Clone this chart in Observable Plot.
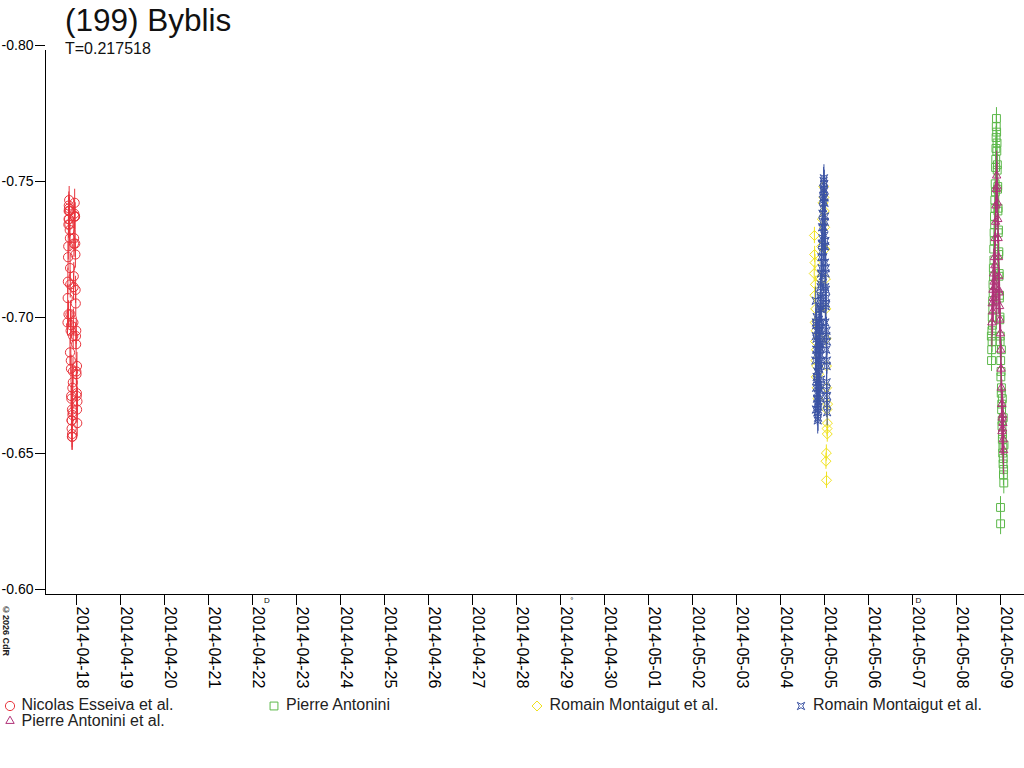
<!DOCTYPE html>
<html><head><meta charset="utf-8">
<script src="https://cdn.jsdelivr.net/npm/d3@7"></script>
<script src="https://cdn.jsdelivr.net/npm/@observablehq/plot@0.6"></script>
<style>
body{margin:0;background:#fff;font-family:"Liberation Sans",Arial,sans-serif;}
#wrap{position:relative;width:1024px;height:768px;overflow:hidden;background:#fff}
#chart{position:absolute;left:0;top:0}
#title{position:absolute;left:65px;top:3px;font-size:31.5px;line-height:34px;color:#111;white-space:nowrap}
#sub{position:absolute;left:65px;top:40px;font-size:16px;line-height:18px;color:#111;white-space:nowrap}
#copy{position:absolute;left:1px;top:605px;font-size:9px;font-weight:bold;writing-mode:vertical-rl;color:#222;white-space:nowrap}
.lt{position:absolute;font-size:16px;line-height:18px;color:#222;white-space:nowrap}
.li{position:absolute;width:14px;height:14px;overflow:visible}
</style></head><body>
<div id="wrap">
<div id="chart"></div>
<div id="title">(199) Byblis</div>
<div id="sub">T=0.217518</div>
<div id="copy">©2026 CdR</div>
<div id="legend"></div>
</div>
<script>
// ---- data ----
const tickLabels = ["2014-04-18","2014-04-19","2014-04-20","2014-04-21","2014-04-22","2014-04-23","2014-04-24","2014-04-25","2014-04-26","2014-04-27","2014-04-28","2014-04-29","2014-04-30","2014-05-01","2014-05-02","2014-05-03","2014-05-04","2014-05-05","2014-05-06","2014-05-07","2014-05-08","2014-05-09"];
const yTicks = [-0.80, -0.75, -0.70, -0.65, -0.60];
const moonTimes = ["2014-04-22T07:52Z", "2014-04-29T06:14Z", "2014-05-07T03:15Z"];
const moonGlyphs = ["D", "°", "D"];

const seriesNames = ["Nicolas Esseiva et al.", "Pierre Antonini", "Romain Montaigut et al.", "Romain Montaigut et al.", "Pierre Antonini et al."];
const seriesColors = ["#e8343c", "#5cb84a", "#f0e21e", "#3c54a4", "#b03278"];
const seriesDates = ["2014-04-18", "2014-05-09", "2014-05-05", "2014-05-05", "2014-05-09"];
const seriesErrors = [0.005, 0.004, 0.003, 0.005, 0.009];

// observations: [hours UT from 0h of the series date, magnitude]
const redObs = [[-4.9,-0.700],[-4.8,-0.709],[-4.7,-0.715],[-4.6,-0.724],[-4.5,-0.728],[-4.4,-0.736],[-4.3,-0.738],[-4.2,-0.743],[-4.1,-0.742],[-4.0,-0.745],[-3.9,-0.741],[-3.8,-0.741],[-3.7,-0.734],[-3.6,-0.731],[-3.5,-0.720],[-3.4,-0.714],[-3.3,-0.703],[-3.2,-0.697],[-3.1,-0.686],[-3.0,-0.683],[-2.9,-0.673],[-2.8,-0.672],[-2.7,-0.664],[-2.6,-0.664],[-2.5,-0.658],[-2.4,-0.659],[-2.3,-0.658],[-2.2,-0.666],[-2.1,-0.667],[-2.0,-0.678],[-1.9,-0.682],[-1.8,-0.695],[-1.7,-0.700],[-1.6,-0.713],[-1.5,-0.717],[-1.4,-0.729],[-1.3,-0.731],[-1.2,-0.740],[-1.1,-0.739],[-1.0,-0.744],[-0.9,-0.739],[-0.8,-0.739],[-0.7,-0.729],[-0.6,-0.725],[-0.5,-0.712],[-0.4,-0.707],[-0.3,-0.695],[-0.2,-0.692],[-0.1,-0.682],[0.0,-0.681],[0.1,-0.673],[0.2,-0.674],[0.3,-0.668],[-4.35,-0.703],[-2.95,-0.699],[-0.15,-0.697],[-2.25,-0.676],[-3.55,-0.689],[0.25,-0.684],[-4.05,-0.738],[-4.25,-0.741],[-3.85,-0.736],[0.4,-0.663],[0.5,-0.671],[-2.45,-0.668],[-2.65,-0.661]];

const greenObs = [[-5.0,-0.695],[-4.9,-0.686],[-4.8,-0.690],[-4.7,-0.697],[-4.6,-0.693],[-4.5,-0.702],[-4.4,-0.699],[-4.3,-0.708],[-4.2,-0.705],[-4.1,-0.714],[-4.0,-0.711],[-3.9,-0.720],[-3.8,-0.717],[-3.7,-0.727],[-3.6,-0.723],[-3.5,-0.733],[-3.4,-0.730],[-3.3,-0.739],[-3.2,-0.736],[-3.1,-0.745],[-3.0,-0.742],[-2.9,-0.751],[-2.8,-0.748],[-2.7,-0.757],[-2.6,-0.760],[-2.5,-0.764],[-2.4,-0.768],[-2.3,-0.772],[-2.2,-0.775],[-2.1,-0.770],[-2.0,-0.763],[-1.9,-0.766],[-1.8,-0.756],[-1.7,-0.758],[-1.6,-0.749],[-1.5,-0.750],[-1.4,-0.741],[-1.3,-0.742],[-1.2,-0.733],[-1.1,-0.734],[-1.0,-0.725],[-0.9,-0.726],[-0.8,-0.717],[-0.7,-0.718],[-0.6,-0.709],[-0.5,-0.710],[-0.4,-0.701],[-0.3,-0.702],[-0.2,-0.693],[-0.1,-0.695],[0.0,-0.632],[0.05,-0.626],[0.1,-0.686],[0.2,-0.680],[0.3,-0.682],[0.4,-0.674],[0.5,-0.676],[0.6,-0.668],[0.7,-0.670],[0.8,-0.662],[0.9,-0.664],[1.0,-0.657],[1.1,-0.659],[1.2,-0.652],[1.3,-0.654],[1.4,-0.648],[1.5,-0.650],[1.6,-0.644],[1.7,-0.646],[1.8,-0.641],[1.9,-0.655],[1.5,-0.665],[1.0,-0.672],[0.5,-0.690]];

const yellowObs = [[-5.6,-0.718],[-5.5,-0.732],[-5.4,-0.725],[-5.3,-0.710],[-5.2,-0.722],[-5.1,-0.700],[-5.0,-0.714],[-4.9,-0.693],[-4.8,-0.705],[-4.7,-0.686],[-4.6,-0.697],[-4.5,-0.680],[-4.4,-0.690],[-4.3,-0.684],[-4.0,-0.676],[-3.6,-0.672],[-3.2,-0.681],[-2.8,-0.694],[-2.4,-0.705],[-2.0,-0.716],[-1.6,-0.728],[-1.2,-0.738],[-0.8,-0.744],[-0.5,-0.750],[-0.3,-0.746],[-0.1,-0.741],[0.1,-0.735],[0.3,-0.727],[0.5,-0.716],[0.7,-0.705],[0.9,-0.694],[1.1,-0.684],[1.2,-0.676],[1.3,-0.668],[1.4,-0.661],[1.5,-0.659],[1.0,-0.652],[0.8,-0.649],[1.1,-0.642],[1.6,-0.663],[1.7,-0.670]];

const blueObs = [[-4.8,-0.708],[-4.7,-0.700],[-4.6,-0.699],[-4.5,-0.690],[-4.4,-0.688],[-4.3,-0.680],[-4.2,-0.679],[-4.1,-0.672],[-4.0,-0.674],[-3.9,-0.667],[-3.8,-0.670],[-3.7,-0.664],[-3.6,-0.668],[-3.5,-0.665],[-3.4,-0.671],[-3.3,-0.669],[-3.2,-0.677],[-3.1,-0.676],[-3.0,-0.685],[-2.9,-0.683],[-2.8,-0.692],[-2.7,-0.691],[-2.6,-0.700],[-2.5,-0.698],[-2.4,-0.706],[-2.3,-0.710],[-2.2,-0.705],[-2.1,-0.713],[-2.0,-0.709],[-1.9,-0.718],[-1.8,-0.714],[-1.7,-0.724],[-1.6,-0.720],[-1.5,-0.729],[-1.4,-0.726],[-1.3,-0.735],[-1.2,-0.731],[-1.1,-0.740],[-1.0,-0.737],[-0.9,-0.745],[-0.8,-0.742],[-0.7,-0.749],[-0.6,-0.746],[-0.5,-0.752],[-0.4,-0.748],[-0.3,-0.753],[-0.2,-0.749],[-0.1,-0.751],[0.0,-0.744],[0.1,-0.746],[0.2,-0.737],[0.3,-0.739],[0.4,-0.728],[0.5,-0.730],[0.6,-0.718],[0.7,-0.720],[0.8,-0.707],[0.9,-0.709],[1.0,-0.695],[1.1,-0.697],[1.2,-0.684],[1.3,-0.686],[1.4,-0.673],[1.45,-0.667],[-4.75,-0.695],[-4.25,-0.702],[-3.75,-0.690],[-3.25,-0.684],[-2.75,-0.697],[-2.25,-0.688],[-1.75,-0.700],[-1.25,-0.694],[0.45,-0.700],[0.95,-0.690],[1.15,-0.678],[0.75,-0.712],[0.25,-0.722],[-0.25,-0.728],[-3.95,-0.682],[-4.55,-0.676],[-2.05,-0.692],[-1.55,-0.705],[-4.95,-0.686],[-4.65,-0.668],[-4.35,-0.694],[-4.05,-0.697],[-3.65,-0.678],[-3.35,-0.693],[-3.05,-0.701],[-2.65,-0.675],[-2.35,-0.672],[-1.95,-0.679],[-1.45,-0.686],[-0.95,-0.717],[-0.65,-0.724],[-0.45,-0.735],[-0.05,-0.732],[0.35,-0.713],[0.65,-0.706],[1.05,-0.675],[1.25,-0.670],[1.35,-0.693]];

const magentaObs = [[-4.7,-0.700],[-4.5,-0.707],[-4.3,-0.704],[-4.1,-0.712],[-3.9,-0.709],[-3.7,-0.718],[-3.5,-0.715],[-3.3,-0.724],[-3.1,-0.721],[-2.9,-0.731],[-2.7,-0.737],[-2.5,-0.743],[-2.3,-0.749],[-2.1,-0.754],[-1.9,-0.750],[-1.7,-0.744],[-1.5,-0.738],[-1.3,-0.731],[-1.1,-0.724],[-0.9,-0.717],[-0.7,-0.711],[-0.5,-0.706],[-0.3,-0.701],[-0.1,-0.696],[0.1,-0.690],[0.3,-0.683],[0.5,-0.676],[0.7,-0.670],[0.9,-0.665],[1.1,-0.661],[1.3,-0.663],[1.5,-0.657],[1.7,-0.653],[1.2,-0.666],[0.8,-0.660],[-3.0,-0.713],[-2.0,-0.708],[-1.0,-0.712]];

const allObs = [redObs, greenObs, yellowObs, blueObs, magentaObs];

// ---- build ----
const hourMs = 3600e3;
function rows(date, obs, err) {
  const base = new Date(date + "T00:00:00Z").getTime();
  return obs.map(([h, m]) => ({t: new Date(base + h * hourMs), m, lo: m - err, hi: m + err}));
}
const starSymbol = {
  draw(ctx, size) {
    const s = Math.sqrt(size) / 2, k = 0.45 * s;
    ctx.moveTo(-s, -s); ctx.lineTo(0, -k); ctx.lineTo(s, -s); ctx.lineTo(k, 0);
    ctx.lineTo(s, s); ctx.lineTo(0, k); ctx.lineTo(-s, s); ctx.lineTo(-k, 0); ctx.closePath();
  }
};
const symbols = ["circle", "square2", "diamond2", starSymbol, "triangle2"];
const radii = [4.6, 5, 4.5, 4.2, 4];
const series = allObs.map((obs, i) => ({
  data: rows(seriesDates[i], obs, seriesErrors[i]), color: seriesColors[i], symbol: symbols[i], r: radii[i]
}));

const x0 = new Date("2014-04-17T07:05:27Z"), x1 = new Date("2014-05-09T13:05:27Z");
const tickDates = tickLabels.map(s => new Date(s + "T00:00:00Z"));
const marks = [
  Plot.ruleY([-0.60], {stroke: "#000"}),
  Plot.ruleX([x0], {y1: -0.80, y2: -0.60, stroke: "#000"}),
  Plot.axisY(yTicks, {tickSize: 10, tickPadding: 2, fontSize: 14, dy: -5, tickFormat: d => d.toFixed(2), label: null, stroke: "#000", fill: "#000"}),
  Plot.axisX(tickDates, {tickSize: 11, tickPadding: 1, tickRotate: 90, fontSize: 16, lineAnchor: "bottom", textAnchor: "start", tickFormat: (d, i) => tickLabels[i], label: null, stroke: "#000", fill: "#000"}),
  Plot.text(moonTimes.map(s => new Date(s)), {x: d => d, y: -0.60, text: (d, i) => moonGlyphs[i], dy: 6, fontSize: 8, fill: "#000"})
];
for (const s of series) {
  marks.push(Plot.dot(s.data, {x: "t", y: "m", symbol: s.symbol, r: s.r, stroke: s.color, fill: "none", strokeWidth: 1}));
  marks.push(Plot.ruleX(s.data, {x: "t", y1: "lo", y2: "hi", stroke: s.color, strokeWidth: 1}));
}
const chart = Plot.plot({
  width: 1024, height: 700,
  marginLeft: 45, marginRight: 0, marginTop: 50, marginBottom: 106,
  x: {type: "utc", domain: [x0, x1]},
  y: {domain: [-0.60, -0.80]},
  style: {fontFamily: "'Liberation Sans', Arial, sans-serif", background: "transparent", color: "#000"},
  marks
});
document.getElementById("chart").appendChild(chart);

// ---- legend ----
const legendPos = [
  {ix: 9.5, iy: 705.5, tx: 21.5, ty: 695.5},
  {ix: 273.5, iy: 705.5, tx: 286, ty: 695.5},
  {ix: 537, iy: 705.5, tx: 549.5, ty: 695.5},
  {ix: 801, iy: 705.5, tx: 813, ty: 695.5},
  {ix: 9.5, iy: 720.5, tx: 21.5, ty: 711.5}
];
const legend = document.getElementById("legend");
series.forEach((s, i) => {
  const p = legendPos[i];
  const svg = d3.create("svg").attr("class", "li").style("left", (p.ix - 7) + "px").style("top", (p.iy - 7) + "px")
    .attr("width", 14).attr("height", 14);
  const sym = typeof s.symbol === "string" ? {circle: d3.symbolCircle, square2: d3.symbolSquare2, diamond2: d3.symbolDiamond2, triangle2: d3.symbolTriangle2}[s.symbol] : s.symbol;
  svg.append("path").attr("transform", "translate(7,7)")
    .attr("d", d3.symbol(sym, Math.PI * s.r * s.r)())
    .attr("fill", "none").attr("stroke", s.color);
  legend.appendChild(svg.node());
  const t = document.createElement("div");
  t.className = "lt"; t.style.left = p.tx + "px"; t.style.top = p.ty + "px";
  t.textContent = seriesNames[i];
  legend.appendChild(t);
});
</script>
</body></html>
